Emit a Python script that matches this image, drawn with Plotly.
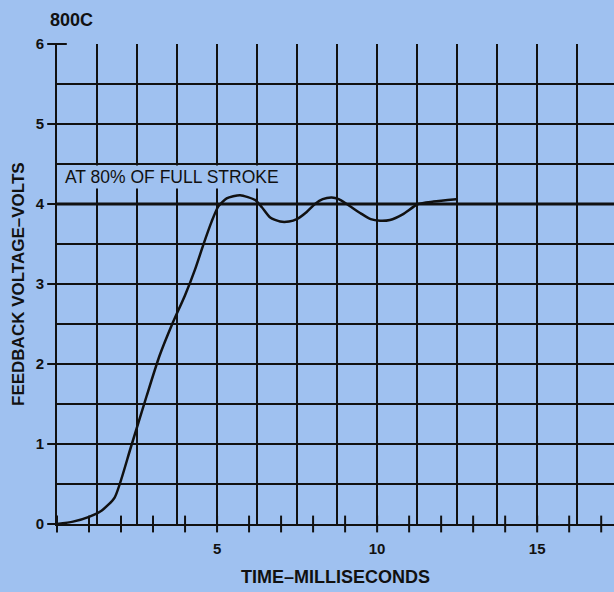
import plotly.graph_objects as go

# ---- data ----
time_ms = [0, 0.5, 1.0, 1.4, 1.8, 2.3, 2.8, 3.2, 3.6, 4.0, 4.31, 4.57, 4.83, 5.04, 5.3,
           5.72, 6.19, 6.4, 6.66, 6.97, 7.25, 7.49, 7.8, 8.06, 8.3, 8.58, 8.8, 9.05, 9.5,
           9.8, 10.09, 10.4, 10.8, 11.28, 11.76, 12.47]
volts = [0, 0.03, 0.09, 0.17, 0.33, 0.95, 1.6, 2.1, 2.5, 2.86, 3.18, 3.49, 3.78, 3.97, 4.07,
         4.11, 4.05, 3.96, 3.83, 3.78, 3.78, 3.81, 3.9, 4.0, 4.06, 4.08, 4.06, 4.0, 3.88,
         3.81, 3.79, 3.8, 3.87, 4.0, 4.03, 4.06]
ref_level = 4.0
ref_label = "AT 80% OF FULL STROKE"
x_tick_labels = [5, 10, 15]
x_minor_ticks = list(range(0, 18))
y_tick_labels = [0, 1, 2, 3, 4, 5, 6]
chart_title = "800C"
x_title = "TIME\u2013MILLISECONDS"
y_title = "FEEDBACK VOLTAGE\u2013VOLTS"

BG = "#9fc1f0"
INK = "#111111"
FONT = "Liberation Sans, Arial, Helvetica, sans-serif"

fig = go.Figure()

# reference line
fig.add_trace(go.Scatter(x=[0, 17.4], y=[ref_level, ref_level], mode="lines",
                         line=dict(color=INK, width=3), hoverinfo="skip", showlegend=False))

# response curve
fig.add_trace(go.Scatter(x=time_ms, y=volts, mode="lines",
                         line=dict(color=INK, width=2.5, shape="spline", smoothing=0.6),
                         showlegend=False))

# x tick marks crossing the axis
fig.add_trace(go.Scatter(x=x_minor_ticks, y=[0] * len(x_minor_ticks), mode="markers",
                         marker=dict(symbol="line-ns", size=12, line=dict(color=INK, width=2)),
                         cliponaxis=False, hoverinfo="skip", showlegend=False))
# y tick marks crossing the axis
fig.add_trace(go.Scatter(x=[0] * len(y_tick_labels), y=y_tick_labels, mode="markers",
                         marker=dict(symbol="line-ew", size=14, line=dict(color=INK, width=2)),
                         cliponaxis=False, hoverinfo="skip", showlegend=False))

fig.update_layout(
    width=614, height=592,
    margin=dict(l=57, r=0, t=44, b=68),
    paper_bgcolor=BG, plot_bgcolor=BG,
    font=dict(family=FONT, color=INK),
    showlegend=False,
    xaxis=dict(range=[0, 17.4], tickvals=x_tick_labels, ticktext=[str(v) for v in x_tick_labels],
               showgrid=True, gridcolor=INK, gridwidth=1.5,
               minor=dict(dtick=1.25, tick0=0, showgrid=True, gridcolor=INK, gridwidth=1.5),
               ticks="", showline=True, linecolor=INK, linewidth=2, zeroline=False,
               tickfont=dict(size=15, family=FONT, color=INK, weight="bold"),
               ticklabelstandoff=10, fixedrange=True),
    yaxis=dict(range=[0, 6], tickvals=y_tick_labels,
               showgrid=True, gridcolor=INK, gridwidth=1.5,
               minor=dict(dtick=0.5, tick0=0, showgrid=True, gridcolor=INK, gridwidth=1.5),
               ticks="", showline=True, linecolor=INK, linewidth=2, zeroline=False,
               tickfont=dict(size=15, family=FONT, color=INK, weight="bold"),
               ticklabelstandoff=8, fixedrange=True),
    annotations=[
        dict(text=chart_title, xref="paper", yref="paper", x=-0.017, y=1.0, yshift=24,
             xanchor="left", yanchor="middle", showarrow=False,
             font=dict(size=18, family=FONT, color=INK, weight="bold")),
        dict(text=ref_label, xref="x", yref="y", x=0.2, y=4.34, xanchor="left", yanchor="middle",
             showarrow=False, bgcolor=BG, font=dict(size=17.5, family=FONT, color=INK)),
        dict(text=x_title, xref="paper", yref="paper", x=0.5, y=0, yshift=-53,
             xanchor="center", yanchor="middle", showarrow=False,
             font=dict(size=18, family=FONT, color=INK, weight="bold")),
        dict(text=y_title, xref="paper", yref="paper", x=0, xshift=-39, y=0.5,
             xanchor="center", yanchor="middle", textangle=-90, showarrow=False,
             font=dict(size=17, family=FONT, color=INK, weight="bold")),
    ],
)

fig.write_html("out.html", config={"displayModeBar": False},
               post_script="document.body.style.margin='0';document.body.style.overflow='hidden';")
